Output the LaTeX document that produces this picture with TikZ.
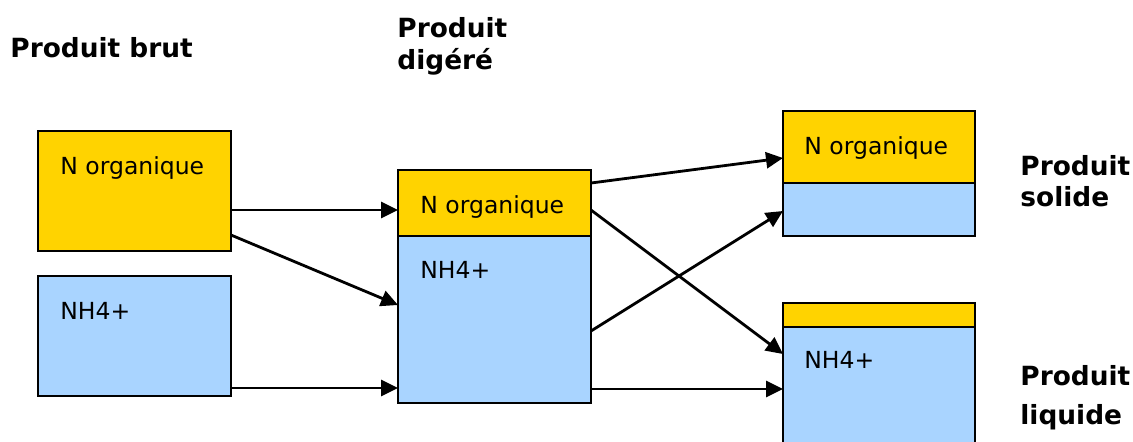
\documentclass[tikz,border=0pt]{standalone}
\usepackage{fontspec}
\setmainfont{DejaVu Sans}
\usetikzlibrary{arrows.meta}
\definecolor{orgN}{RGB}{255,211,0}
\definecolor{ammN}{RGB}{169,212,255}
\newlength\pxu
\setlength\pxu{0.5pt}
% a filled compartment: name, left, top, width, height, colour
\newcommand\cell[6]{\node[cellbox,fill=#6,minimum width=#4*\pxu,minimum height=#5*\pxu] (#1) at (#2,#3) {};}
\tikzset{
  cellbox/.style={draw=black,line width=1.2pt,inner sep=0pt,outer sep=0pt,anchor=north west,rectangle},
  lbl/.style={anchor=base west,inner sep=0pt,font=\fontsize{11.75}{14}\selectfont},
  head/.style={anchor=base west,inner sep=0pt,font=\fontsize{13.2}{15}\selectfont\bfseries},
  arr/.style={line width=1.4pt,-{Triangle[length=8.5pt,width=8pt]}}
}
\begin{document}
\begin{tikzpicture}[x=0.5pt,y=-0.5pt]
\useasboundingbox (0,0) rectangle (1133,441);
\clip (0,0) rectangle (1133,441);
% raw product
\cell{A}{38}{131}{193}{120}{orgN}
\cell{B}{38}{276}{193}{120}{ammN}
% digested product
\cell{MN}{398}{236}{193}{167}{ammN}
\cell{MO}{398}{170}{193}{66}{orgN}
% solid fraction
\cell{RN}{783}{183}{192}{53}{ammN}
\cell{RO}{783}{111}{192}{72}{orgN}
% liquid fraction
\cell{QN}{783}{327}{192}{150}{ammN}
\cell{QO}{783}{303}{192}{24}{orgN}
% compartment labels
\node[lbl] (tA) at (60,174) {N organique};
\node[lbl] (tB) at (60,319) {NH4+};
\node[lbl] (tMO) at (420,213) {N organique};
\node[lbl] (tMN) at (420,278) {NH4+};
\node[lbl] (tRO) at (804,154) {N organique};
\node[lbl] (tQN) at (804,368) {NH4+};
% headings
\node[head] (h1) at (10,57) {Produit brut};
\node[head] (h2a) at (397,37) {Produit};
\node[head] (h2b) at (397,69) {digéré};
\node[head] (h3a) at (1020,175) {Produit};
\node[head] (h3b) at (1020,206) {solide};
\node[head] (h4a) at (1020,385) {Produit};
\node[head] (h4b) at (1020,424) {liquide};
% flows
\draw[arr] (A.east |- 0,210) -- (MO.west |- 0,210);
\draw[arr] (A.east |- 0,235) -- (MN.west |- 0,305);
\draw[arr] (B.east |- 0,388) -- (MN.west |- 0,388);
\draw[arr] (MO.east |- 0,183) -- (RO.west |- 0,158);
\draw[arr] (MO.east |- 0,210) -- (QN.west |- 0,354);
\draw[arr] (MN.east |- 0,331) -- (RN.west |- 0,211);
\draw[arr] (MN.east |- 0,389) -- (QN.west |- 0,389);
\end{tikzpicture}
\end{document}
